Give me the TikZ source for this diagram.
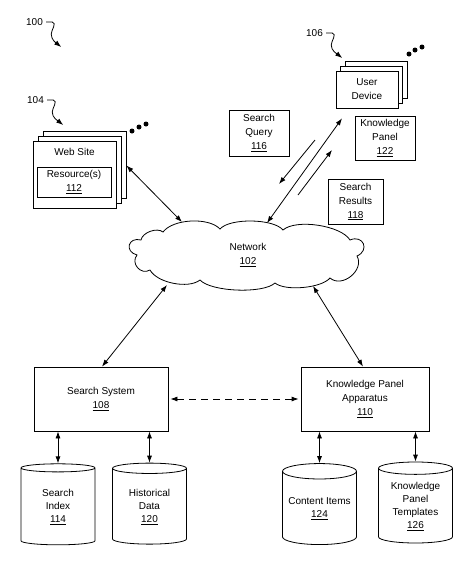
\documentclass[tikz,border=0pt]{standalone}
\usepackage{fontspec}
\setmainfont{Liberation Sans}
\usetikzlibrary{shapes.geometric,shadows,positioning,arrows.meta}

\begin{document}
\begin{tikzpicture}[x=1pt, y=-1pt, >={Latex[length=7pt,width=5pt]}, line width=0.8pt,
  every node/.style={font=\fontsize{10}{14}\selectfont, align=center, inner sep=1pt},
  box/.style={rectangle, draw, fill=white},
  pages/.style={box, double copy shadow={shadow xshift=#1, shadow yshift=5pt}},
  store/.style={cylinder, shape border rotate=90, draw, aspect=0.24,
    minimum width=74pt, minimum height=81pt, font=\fontsize{10}{13}\selectfont},
  dot/.style={circle, fill, inner sep=0pt, minimum size=5pt},
  puff/.style 2 args={bend left=#1, looseness=#2}]
\useasboundingbox (0,0) rectangle (475,566);

% Labels
\node (l100) at (34.5,22) {100};
\node (l104) at (35.5,100) {104};
\node (l106) at (314.5,33) {106};
\draw[->] ([xshift=2pt]l100.east) -- ++(6,0) .. controls +(5,1) and +(0,-4) .. ++(-1,12) .. controls +(0,6) and +(-5,-4) .. ++(10,13);
\draw[->] ([xshift=2pt]l104.east) -- ++(6,0) .. controls +(5,1) and +(0,-4) .. ++(-1,12) .. controls +(0,6) and +(-5,-4) .. ++(11,13);
\draw[->] ([xshift=2pt]l106.east) -- ++(6,0) .. controls +(5,1) and +(0,-4) .. ++(-1,12) .. controls +(0,6) and +(-5,-4) .. ++(11,13);

% Web Site
\node[pages=5pt, minimum width=83pt, minimum height=67pt] (web) at (74.5,174.5) {};
\node (webtitle) at (74.5,152) {Web Site};
\node[box, minimum width=74pt, minimum height=30pt] (res) at (74,182) {Resource(s)\\\underline{112}};
\node[dot] (w1) at (132,131) {};
\node[dot] (w2) at (139,127) {};
\node[dot] (w3) at (146,124) {};

% User Device
\node[pages=4.5pt, minimum width=62pt, minimum height=37pt] (user) at (367,89.5) {User\\Device};
\node[dot] (u1) at (409,54) {};
\node[dot] (u2) at (415,50) {};
\node[dot] (u3) at (422,47) {};
\node[box, minimum width=60pt, minimum height=44pt] (panel) at (385,138) {Knowledge\\Panel\\\underline{122}};

% Query and Results
\node[box, minimum width=60pt, minimum height=46pt] (query) at (259,133) {Search\\Query\\\underline{116}};
\node[box, minimum width=55pt, minimum height=45pt] (results) at (355.5,201.5) {Search\\Results\\\underline{118}};
\coordinate (q1) at (315,140);
\coordinate (q2) at (279,184);
\coordinate (r1) at (298,195);
\coordinate (r2) at (332,150);
\draw[->] (q1) -- (q2);
\draw[->] (r1) -- (r2);

% Network
\draw[fill=white] (141,240) to[puff={60}{0.84}] (163,232) to[puff={50}{0.74}] (220,229)
  to[puff={50}{0.6}] (283,230) to[puff={50}{0.65}] (350,240) to[puff={90}{2.1}] (357,256)
  to[puff={80}{1.18}] (330,278) to[puff={45}{0.61}] (275,283) to[puff={45}{0.55}] (200,280)
  to[puff={50}{0.74}] (150,270) to[puff={80}{1.38}] (137,255) to[puff={90}{2.2}] cycle;
\node (net) at (248,255) {Network\\\underline{102}};

% Search System and Knowledge Panel Apparatus
\node[box, minimum width=134pt, minimum height=64pt] (search) at (101,399) {Search System\\\underline{108}};
\node[box, minimum width=128pt, minimum height=64pt] (kpa) at (365,399) {Knowledge Panel\\Apparatus\\\underline{110}};

% Data stores
\node[store] (idx) at (58,507) {Search\\Index\\\underline{114}};
\node[store] (hist) at (149.5,507) {Historical\\Data\\\underline{120}};
\node[store] (items) at (319.5,509) {Content Items\\\underline{124}};
\node[store] (tmpl) at (415.5,506.5) {Knowledge\\Panel\\Templates\\\underline{126}};

% Connections
\draw[<->] ([xshift=10pt,yshift=9pt]web.east) -- ([xshift=-66pt,yshift=33pt]net.center);
\draw[<->] ([xshift=-25pt,yshift=-10pt]user.south) -- ([xshift=19pt,yshift=32pt]net.center);
\draw[<->] ([xshift=-81pt,yshift=-30pt]net.center) -- ([xshift=1pt]search.north);
\draw[<->] ([xshift=65pt,yshift=-31pt]net.center) -- ([xshift=-2pt]kpa.north);
\draw[<->, dashed, dash pattern=on 7pt off 5pt] ([xshift=2pt]search.east) -- ([xshift=-2pt]kpa.west);
\draw[<->] (idx.north |- search.south) -- (idx.north);
\draw[<->] (hist.north |- search.south) -- (hist.north);
\draw[<->] (items.north |- kpa.south) -- (items.north);
\draw[<->] (tmpl.north |- kpa.south) -- (tmpl.north);

\end{tikzpicture}
\end{document}
